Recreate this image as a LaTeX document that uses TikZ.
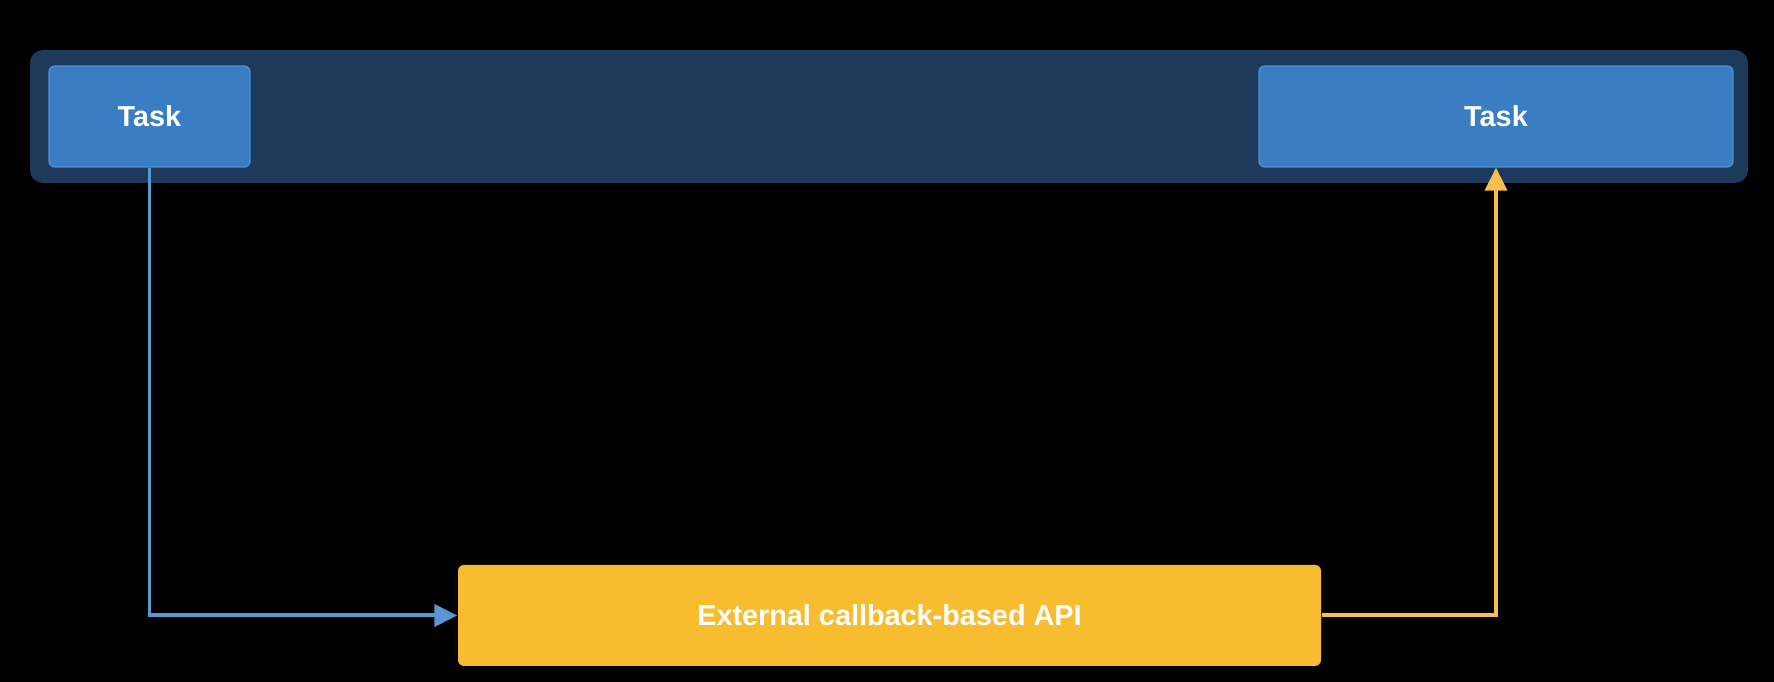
\documentclass[tikz,border=0pt]{standalone}
\usepackage{fontspec}
\setmainfont{Liberation Sans}
\usetikzlibrary{arrows.meta}

\definecolor{lanebg}{HTML}{1D3A5A}
\definecolor{taskfill}{HTML}{3A7DC3}
\definecolor{taskline}{HTML}{4E90D6}
\definecolor{apifill}{HTML}{F8BC30}
\definecolor{blueline}{HTML}{5B97D3}
\definecolor{yellowline}{HTML}{F6C04A}

\begin{document}
\begin{tikzpicture}[
	lane/.style={fill=lanebg,rounded corners=0.13cm,minimum height=1.33cm,minimum width=17.18cm,inner sep=0pt},
	task/.style={fill=taskfill,draw=taskline,line width=0.4pt,rounded corners=0.06cm,minimum height=1.01cm,inner sep=0pt,text=white,font=\fontsize{8.2}{10}\selectfont\bfseries},
	api/.style={fill=apifill,rounded corners=0.06cm,minimum height=1.01cm,minimum width=8.63cm,inner sep=0pt,text=white,font=\fontsize{8.2}{10}\selectfont\bfseries},
	link/.style={line width=0.04cm,-{Triangle[length=0.23cm,width=0.22cm]}}
	]
	
	% Background and size
	\fill[black] (0,0) rectangle (17.74,6.82);
	\useasboundingbox (0,0) rectangle (17.74,6.82);
	
	% Draw nodes
	\node[lane] (lane) at (8.89,5.655) {};
	\node[task,minimum width=2.01cm] (TaskA) at (1.495,5.655) {Task};
	\node[task,minimum width=4.74cm] (TaskB) at (14.96,5.655) {Task};
	\node[api] (API) at (8.895,0.665) {External callback-based API};
	
	% Draw arcs
	\draw[link,blueline] (TaskA.south) |- (API.west);
	\draw[link,yellowline] (API.east) -| (TaskB.south);
	
\end{tikzpicture}
\end{document}
